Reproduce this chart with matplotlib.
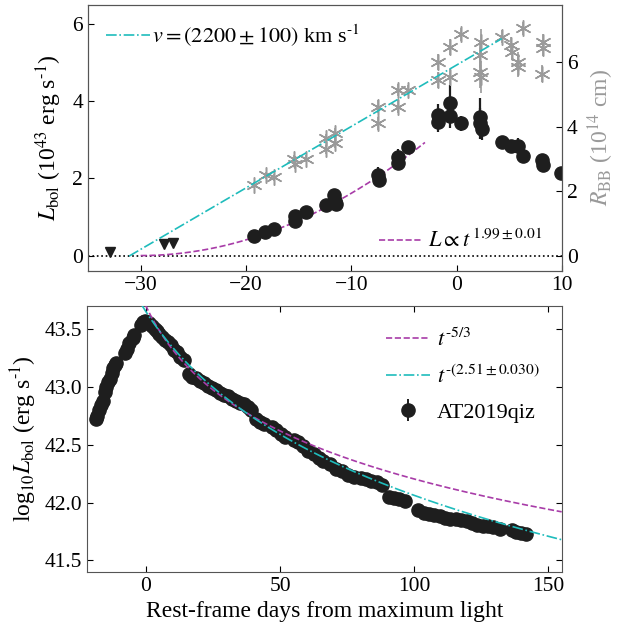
'''bolometric light curve and blackbody radius of AT2019qiz
'''
import numpy as np
import matplotlib
matplotlib.use("Agg")
import matplotlib.pyplot as plt

plt.rcParams['font.family'] = ['Liberation Serif', 'DejaVu Serif']
plt.rcParams['mathtext.fontset'] = 'stix'
plt.rcParams['font.size'] = 16
plt.rcParams['xtick.labelsize'] = 15.5
plt.rcParams['ytick.labelsize'] = 15.5

CYAN = '#1fbcbc'
MAGENTA = '#a83ca8'
GREY = '#9a9a9a'
DOT = '#1e1e1e'

# --- top panel: early rise (days, 1e43 erg/s) ---
rise_t = [-19.2, -18.2, -17.3, -15.3, -15.3, -14.3, -12.4, -11.6, -11.5, -11.4,
          -7.5, -7.4, -5.6, -5.6, -4.6, -1.8, -1.8, -0.6, -0.6, 0.4,
          2.2, 2.2, 2.4, 4.3, 5.2, 5.8, 6.3, 8.1, 8.2, 9.9]
rise_L = [0.52, 0.62, 0.69, 0.90, 1.03, 1.12, 1.30, 1.58, 1.42, 1.35,
          2.10, 1.97, 2.56, 2.39, 2.81, 3.64, 3.46, 3.97, 3.62, 3.43,
          3.60, 3.43, 3.29, 2.95, 2.84, 2.84, 2.58, 2.49, 2.36, 2.15]
rise_L_err = [0.05, 0.05, 0.05, 0.06, 0.06, 0.06, 0.08, 0.15, 0.12, 0.10,
              0.20, 0.15, 0.20, 0.15, 0.15, 0.30, 0.25, 0.45, 0.30, 0.20,
              0.50, 0.40, 0.30, 0.15, 0.15, 0.20, 0.10, 0.12, 0.10, 0.10]

# upper limits before discovery
lim_t = [-32.9, -27.8, -26.9]
lim_L = [0.10, 0.29, 0.33]

# blackbody radius (1e14 cm)
rbb_t = [-19.2, -18.1, -17.3, -15.4, -15.3, -14.3, -12.4, -12.4, -11.5, -11.5,
         -7.5, -7.5, -5.6, -5.6, -4.6, -1.8, -1.8, -0.6, -0.6, 0.4,
         2.3, 2.2, 2.2, 2.3, 4.3, 5.2, 5.3, 5.8, 5.8, 6.3, 8.2, 8.2, 8.1]
rbb_R = [2.20, 2.50, 2.44, 2.99, 2.85, 3.02, 3.64, 3.30, 3.80, 3.49,
         4.62, 4.11, 5.14, 4.62, 5.14, 6.00, 5.45, 6.46, 5.55, 6.87,
         6.63, 6.22, 5.70, 5.55, 6.79, 6.53, 6.33, 6.02, 5.85, 7.05, 6.63, 6.45, 5.65]
rbb_R_err = [0.1, 0.1, 0.1, 0.15, 0.15, 0.1, 0.15, 0.15, 0.15, 0.15,
             0.2, 0.2, 0.2, 0.2, 0.15, 0.25, 0.25, 0.25, 0.25, 0.2,
             0.4, 0.4, 0.5, 0.5, 0.2, 0.25, 0.25, 0.3, 0.3, 0.2, 0.25, 0.25, 0.25]

# fits to the rise
v_kms = 2200.0
v_t0 = -31.1
v_tend = 4.3
pow_index = 1.99
pow_t0 = -30.0
pow_norm = 0.00416
pow_tend = -3.0

# --- bottom panel: full light curve ---
lc_t = [-18.8, -18.2, -17.6, -16.9, -16.2, -15.3, -14.8, -14.2, -13.5, -12.8,
        -12.2, -11.6, -11.2, -7.9, -7.2, -6.4, -5.0, -4.3, -1.9, -1.2,
        -0.5, 0.3, 1.2, 2.2, 3.2, 4.1, 5.0, 6.0, 7.0, 8.2,
        9.2, 10.5, 11.5, 12.8, 14.0, 16.0, 17.0, 18.5, 20.0, 21.5,
        23.0, 24.5, 26.0, 27.5, 29.0, 30.5, 32.0, 33.5, 35.0, 36.5,
        38.0, 39.0, 41.0, 42.5, 44.0, 47.0, 48.5, 50.5, 52.0, 55.0,
        56.5, 58.5, 60.5, 62.5, 64.5, 66.0, 68.5, 71.0, 73.0, 75.5,
        77.5, 80.0, 82.0, 84.0, 86.0, 88.0, 90.5, 92.5, 94.5, 96.5,
        101.5, 103.5, 105.5, 107.5, 109.5, 111.5, 113.5, 115.5, 117.5, 119.5,
        121.5, 123.5, 125.5, 127.5, 129.5, 132.0, 136.5, 138.0, 140.0, 141.5]
lc_logL = [42.72, 42.75, 42.80, 42.84, 42.88, 42.96, 43.00, 43.04, 43.07, 43.12,
           43.16, 43.19, 43.21, 43.29, 43.33, 43.38, 43.42, 43.45, 43.54, 43.56,
           43.57, 43.56, 43.55, 43.53, 43.50, 43.48, 43.46, 43.43, 43.41, 43.39,
           43.36, 43.32, 43.30, 43.26, 43.23, 43.11, 43.09, 43.08, 43.05, 43.03,
           43.01, 42.99, 42.97, 42.95, 42.93, 42.92, 42.90, 42.88, 42.86, 42.85,
           42.83, 42.80, 42.72, 42.70, 42.68, 42.65, 42.63, 42.59, 42.57, 42.54,
           42.52, 42.49, 42.45, 42.42, 42.39, 42.36, 42.33, 42.29, 42.27, 42.24,
           42.22, 42.21, 42.20, 42.19, 42.18, 42.15, 42.05, 42.04, 42.03, 42.01,
           41.94, 41.91, 41.90, 41.89, 41.88, 41.87, 41.86, 41.86, 41.85, 41.84,
           41.82, 41.81, 41.80, 41.80, 41.79, 41.77, 41.76, 41.75, 41.74, 41.73]

# power-law decline fits: logL = a - n log10(t - t0)
fit53_n, fit53_t0, fit53_a = 5.0 / 3.0, -14.5, 43.70
fitfree_n, fitfree_t0, fitfree_a = 2.51, -30.4, 43.65


def power_decline(t, a, n, t0):
    return a - n * np.log10((t - t0) / (-t0))


fig = plt.figure(figsize=(6.17, 6.25), dpi=100)
ax = fig.add_axes([0.1426, 0.5664, 0.768, 0.4256])
ax_r = ax.twinx()
ax_b = fig.add_axes([0.141, 0.0848, 0.7694, 0.4256])

# ---- top ----
ax.axhline(0, color='k', ls=':', lw=1.2, zorder=1)
tp = np.linspace(pow_t0, pow_tend, 200)
pow_line, = ax.plot(tp, pow_norm * (tp - pow_t0) ** pow_index, color=MAGENTA,
                    ls='--', lw=1.2, zorder=3)
ax.errorbar(rise_t, rise_L, yerr=rise_L_err, fmt='o', color=DOT, ms=9.5,
            elinewidth=1.6, capsize=0, zorder=4)
ax.plot(lim_t, lim_L, 'v', color=DOT, ms=7.5, zorder=4)

ax_r.errorbar(rbb_t, rbb_R, yerr=rbb_R_err, fmt='none', ecolor=GREY,
              elinewidth=1.2, capsize=0, zorder=2)
ax_r.plot(rbb_t, rbb_R, ls='none', marker=(6, 2, 0), color=GREY, ms=11.5,
          mew=1.1, zorder=2)
tv = np.linspace(v_t0, v_tend, 50)
slope = v_kms * 1e5 * 86400 / 1e14
v_line, = ax_r.plot(tv, slope * (tv - v_t0), color=CYAN, ls='-.', lw=1.2, zorder=3)

ax.set_xlim(-35, 10)
ax.set_ylim(-0.4, 6.5)
ax_r.set_ylim(-0.46, 7.77)
ax.set_xticks([-30, -20, -10, 0, 10])
ax.set_yticks([0, 2, 4, 6])
ax_r.set_yticks([0, 2, 4, 6])
ax.set_ylabel(r'$L_{\rm bol}$ (10$^{43}$ erg s$^{\rm \text{-}1}$)', fontsize=17, labelpad=6)
ax_r.set_ylabel(r'$R_{\rm BB}$ (10$^{14}$ cm)', color=GREY, fontsize=17, labelpad=6)
ax.tick_params(direction='in', length=4)
ax_r.tick_params(direction='in', length=4)

leg1 = ax_r.legend([v_line], [r'$v = (2200 \pm 100)$ km s$^{\rm \text{-}1}$'],
                   loc='upper left', frameon=False, handlelength=2.0,
                   handletextpad=0.1, borderaxespad=0.4)
ax_r.add_artist(leg1)
ax_r.legend([pow_line], [r'$L \propto t^{\,1.99 \pm 0.01}$'], loc='lower right',
            frameon=False, handlelength=2.0, handletextpad=0.2,
            bbox_to_anchor=(1.0, -0.005))

# ---- bottom ----
tb = np.linspace(-1.5, 155, 300)
l53, = ax_b.plot(tb, power_decline(tb, fit53_a, fit53_n, fit53_t0),
                 color=MAGENTA, ls='--', lw=1.2, zorder=3)
lfree, = ax_b.plot(tb, power_decline(tb, fitfree_a, fitfree_n, fitfree_t0),
                   color=CYAN, ls='-.', lw=1.2, zorder=4)
pts = ax_b.errorbar(lc_t, lc_logL, yerr=0.01, fmt='o', color=DOT, ms=9.5,
                    elinewidth=1.4, capsize=0, zorder=2)
ax_b.set_xlim(-22, 155)
ax_b.set_ylim(41.4, 43.7)
ax_b.set_xticks([0, 50, 100, 150])
ax_b.set_yticks([41.5, 42.0, 42.5, 43.0, 43.5])
ax_b.set_yticklabels(['41.5', '42.0', '42.5', '43.0', '43.5'])
ax_b.tick_params(direction='in', length=4, top=True, right=True)
ax_b.set_xlabel('Rest-frame days from maximum light', fontsize=17)
ax_b.set_ylabel(r'log$_{10}L_{\rm bol}$ (erg s$^{\rm \text{-}1}$)', fontsize=17)
ax_b.legend([l53, lfree, pts],
            [r'$t^{\rm \text{-}5/3}$', r'$t^{\rm \text{-}(2.51 \pm 0.030)}$', 'AT2019qiz'],
            loc='upper right', frameon=False, handlelength=2.0, handletextpad=0.3,
            labelspacing=0.65, borderaxespad=0.6)

for a in (ax, ax_r, ax_b):
    for s in a.spines.values():
        s.set_color('#555555')

fig.savefig('out.png', dpi=100)
